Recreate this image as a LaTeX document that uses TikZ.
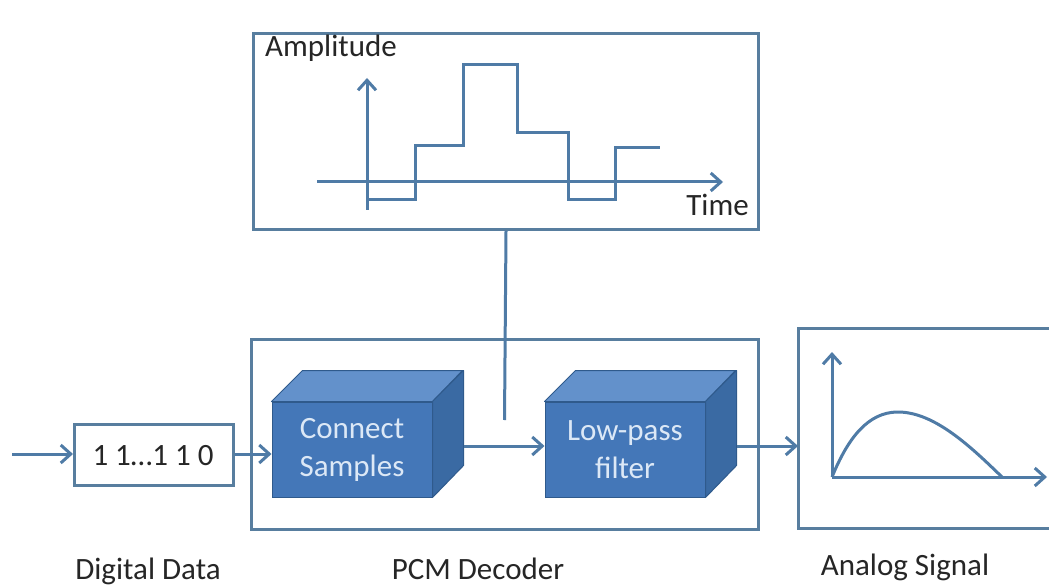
\documentclass[tikz,border=0pt]{standalone}
\usepackage{fontspec}
\setmainfont{Carlito}
\usetikzlibrary{arrows.meta}
\definecolor{linec}{HTML}{4F7BA6}
\definecolor{boxc}{HTML}{587E9F}
\definecolor{cubefront}{HTML}{4477B8}
\definecolor{cubetop}{HTML}{6391CB}
\definecolor{cubeside}{HTML}{3A6AA3}
\definecolor{cubeedge}{HTML}{2F5A8C}
\definecolor{cubetext}{HTML}{DCE8F6}
\definecolor{txt}{HTML}{262626}
\begin{document}
\begin{tikzpicture}[x=1pt,y=-1pt,
  font=\fontsize{31}{38}\selectfont, text=txt,
  frame/.style={draw=boxc, line width=3pt, inner sep=0pt, anchor=north west},
  wire/.style={draw=linec, line width=3pt},
  conn/.style={wire, -{Straight Barb[length=10pt,width=18pt]}},
  label/.style={inner sep=0pt, anchor=base},
  cubeface/.style={fill=cubefront, draw=cubeedge, line width=1pt,
    minimum width=160pt, minimum height=95pt, inner sep=0pt,
    align=center, text=cubetext},
  cubetopf/.style={fill=cubetop, draw=cubeedge, line width=1pt, line join=round},
  cubesidef/.style={fill=cubeside, draw=cubeedge, line width=1pt, line join=round}]
\useasboundingbox[fill=white] (0,0) rectangle (1049,588);

% waveform panel
\node[frame, minimum width=505pt, minimum height=196pt] (plot) at (252,32) {};
\node[label, anchor=base west] (amp) at (265,57) {Amplitude};
\node[label, anchor=base east] (time) at (749,215) {Time};
\coordinate (yo) at (367,210);
\coordinate (yt) at (367,78);
\coordinate (xo) at (317,182);
\coordinate (xt) at (723,182);
\draw[conn] (yo) -- (yt);
\draw[conn] (xo) -- (xt);
\draw[wire, line join=miter] (367,200) -- (415,200) -- (415,146) -- (463,146)
  -- (463,65) -- (517,65) -- (517,133) -- (568,133) -- (568,200)
  -- (615,200) -- (615,148) -- (660,148);

% decoder frame
\node[frame, minimum width=507pt, minimum height=190pt] (dec) at (250,338) {};
\coordinate (tap) at (504.5,420);
\draw[wire] (plot.south) -- (tap);

% digital input
\node[frame, minimum width=159pt, minimum height=61pt] (dd) at (73,423) {};
\node[label] (ddt) at (153,465) {1 1…1 1 0};
\coordinate (src) at (12,454);
\draw[conn] (src) -- (src -| dd.west);

% connect samples block
\node[cubeface] (cs) at (352,449.5) {Connect\\Samples};
\draw[cubetopf] (cs.north west) -- ++(31,-31) -- ++(160,0) -- (cs.north east) -- cycle;
\draw[cubesidef] (cs.north east) -- ++(31,-31) -- ++(0,95) -- (cs.south east) -- cycle;

% low-pass block
\node[cubeface] (lp) at (625,449.5) {Low-pass\\filter};
\draw[cubetopf] (lp.north west) -- ++(31,-31) -- ++(160,0) -- (lp.north east) -- cycle;
\draw[cubesidef] (lp.north east) -- ++(31,-31) -- ++(0,95) -- (lp.south east) -- cycle;

\draw[conn] (dd.east |- src) -- (cs.west |- src);
\draw[conn] ([shift={(31,-3.5)}]cs.east) -- ([yshift=3.5pt]lp.west);

% analog output panel (open to the right)
\node[inner sep=0pt, anchor=north west, minimum width=251pt, minimum height=200pt] (an) at (798,328) {};
\draw[boxc, line width=3pt] (an.north east) -- (an.north west) -- (an.south west) -- (an.south east);
\draw[conn] ([shift={(31,-3.5)}]lp.east) -- ([yshift=3.5pt]lp.east -| an.west);
\coordinate (ao) at (832,477);
\draw[conn] (ao) -- (832,352);
\draw[conn] (ao) -- (1047,477);
\draw[wire] (ao) .. controls (848,438) and (868,412) .. (898,412)
  .. controls (935,412) and (972,448) .. (1002,477);

% captions
\node[label] (lab1) at (148,579) {Digital Data};
\node[label] (lab2) at (478,579) {PCM Decoder};
\node[label] (lab3) at (905,575) {Analog Signal};
\end{tikzpicture}
\end{document}
